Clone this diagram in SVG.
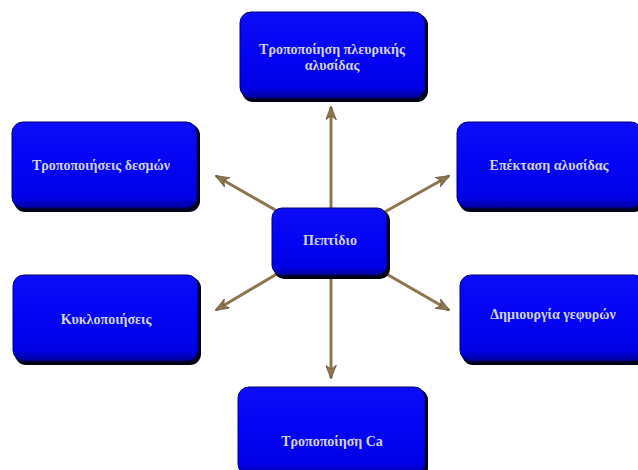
<svg xmlns="http://www.w3.org/2000/svg" width="638" height="470" viewBox="0 0 638 470">
<defs>
<linearGradient id="blue" x1="0" y1="0" x2="0" y2="1">
<stop offset="0" stop-color="#0c0cf8"/>
<stop offset="0.5" stop-color="#0404f4"/>
<stop offset="0.88" stop-color="#0000e6"/>
<stop offset="1" stop-color="#00009a"/>
</linearGradient>
<linearGradient id="hl" x1="0" y1="0" x2="1" y2="0">
<stop offset="0" stop-color="#ffffff" stop-opacity="0"/>
<stop offset="0.6" stop-color="#c8c8ff" stop-opacity="0.5"/>
<stop offset="1" stop-color="#ffffff" stop-opacity="0.9"/>
</linearGradient>
<marker id="ah" viewBox="0 0 14 11" refX="13" refY="5.5" markerWidth="14" markerHeight="11" markerUnits="userSpaceOnUse" orient="auto">
<path d="M0,0 L14,5.5 L0,11 L4,5.5 Z" fill="#8c7650" stroke="#5a4a30" stroke-width="0.6"/>
</marker>
</defs>
<style>
.sh{fill:#000018;}
.bx{fill:url(#blue);stroke:#00006a;stroke-width:1;}
.hl{stroke:url(#hl);stroke-width:1.2;fill:none;}
.t{font-family:"Liberation Serif","DejaVu Serif",serif;font-weight:bold;font-size:14px;fill:#d2d2dc;text-anchor:middle;}
.ln{stroke:#8c7650;stroke-width:3;fill:none;marker-end:url(#ah);}
</style>
<rect width="638" height="470" fill="#ffffff"/>
<g id="connectors">
<line class="ln" x1="331" y1="242" x2="331" y2="107"/>
<line class="ln" x1="331" y1="242" x2="331" y2="378"/>
<line class="ln" x1="331" y1="242" x2="216" y2="176"/>
<line class="ln" x1="331" y1="242" x2="449" y2="176"/>
<line class="ln" x1="331" y1="242" x2="216" y2="310"/>
<line class="ln" x1="331" y1="242" x2="449" y2="310"/>
</g>
<g id="n-top">
<rect class="sh" x="242" y="14" width="186" height="88" rx="11"/>
<rect class="bx" x="240" y="12" width="185" height="86" rx="11"/>
<line class="hl" x1="300" y1="17" x2="415" y2="17"/>
<text class="t" x="332" y="54">Τροποποίηση πλευρικής</text>
<text class="t" x="332" y="70">αλυσίδας</text>
</g>
<g id="n-center">
<rect class="sh" x="274" y="210" width="116" height="69" rx="10"/>
<rect class="bx" x="272" y="208" width="115" height="67" rx="10"/>
<line class="hl" x1="320" y1="213" x2="378" y2="213"/>
<text class="t" x="330" y="245">Πεπτίδιο</text>
</g>
<g id="n-lefttop">
<rect class="sh" x="14" y="124" width="186" height="88" rx="11"/>
<rect class="bx" x="12" y="122" width="185" height="86" rx="11"/>
<line class="hl" x1="70" y1="127" x2="187" y2="127"/>
<text class="t" x="101" y="170">Τροποποιήσεις δεσμών</text>
</g>
<g id="n-righttop">
<rect class="sh" x="459" y="124" width="186" height="88" rx="11"/>
<rect class="bx" x="457" y="122" width="185" height="86" rx="11"/>
<line class="hl" x1="515" y1="127" x2="634" y2="127"/>
<text class="t" x="549" y="170">Επέκταση αλυσίδας</text>
</g>
<g id="n-leftbottom">
<rect class="sh" x="15" y="277" width="186" height="88" rx="11"/>
<rect class="bx" x="13" y="275" width="185" height="86" rx="11"/>
<line class="hl" x1="70" y1="280" x2="188" y2="280"/>
<text class="t" x="106" y="324">Κυκλοποιήσεις</text>
</g>
<g id="n-rightbottom">
<rect class="sh" x="462" y="277" width="186" height="88" rx="11"/>
<rect class="bx" x="460" y="275" width="185" height="86" rx="11"/>
<line class="hl" x1="518" y1="280" x2="634" y2="280"/>
<text class="t" x="553" y="319">Δημιουργία γεφυρών</text>
</g>
<g id="n-bottom">
<rect class="sh" x="240" y="389" width="188" height="90" rx="11"/>
<rect class="bx" x="238" y="387" width="187" height="88" rx="11"/>
<line class="hl" x1="300" y1="392" x2="415" y2="392"/>
<text class="t" x="332" y="446">Τροποποίηση Ca</text>
</g>
</svg>
